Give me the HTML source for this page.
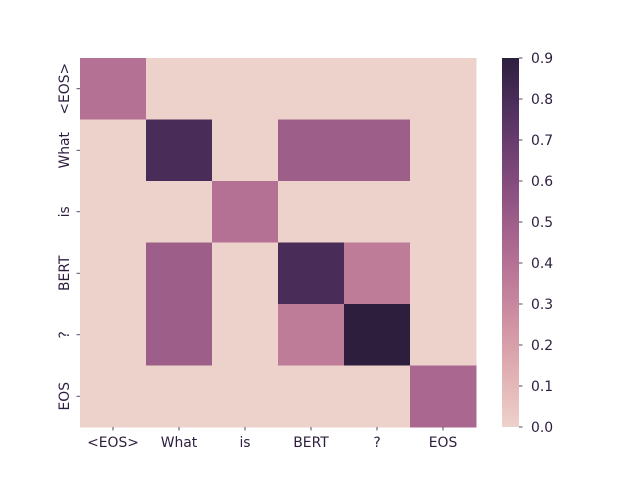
<!DOCTYPE html>
<html><head><meta charset="utf-8"><style>
body{margin:0;background:#fff;}
svg text{font-family:"DejaVu Sans","Liberation Sans",sans-serif;font-size:13.9px;fill:#2d1e3e;}
</style></head><body>
<svg id="chart" width="640" height="480" xmlns="http://www.w3.org/2000/svg"></svg>
<script>
const xLabels = ["<EOS>","What","is","BERT","?","EOS"];
const yLabels = ["<EOS>","What","is","BERT","?","EOS"];
const row0 = [0.4,0,0,0,0,0];
const row1 = [0,0.8,0,0.5,0.5,0];
const row2 = [0,0,0.4,0,0,0];
const row3 = [0,0.5,0,0.8,0.35,0];
const row4 = [0,0.5,0,0.35,0.9,0];
const row5 = [0,0,0,0,0,0.45];
const cbTicks = [0.0,0.1,0.2,0.3,0.4,0.5,0.6,0.7,0.8,0.9];
const vmin = 0, vmax = 0.9;
const rows = [row0,row1,row2,row3,row4,row5];

const NS = "http://www.w3.org/2000/svg";
const svg = document.getElementById("chart");
const L=80,T=58,R=476,B=427;
const cw=(R-L)/xLabels.length, ch=(B-T)/yLabels.length;
function xPos(i){return L+i*cw;}
function yPos(j){return T+j*ch;}
function color(v){
  let t=(v-vmin)/(vmax-vmin); t=Math.max(0,Math.min(1,t));
  const x=0.85-0.7*t, a=0.8*x*(1-x)/2, phi=2*Math.PI*(0.4*x);
  const c=Math.cos(phi), s=Math.sin(phi);
  const r=x+a*(-0.14861*c+1.78277*s), g=x+a*(-0.29227*c-0.90649*s), b=x+a*(1.97294*c);
  const f=q=>Math.round(Math.max(0,Math.min(1,q))*255);
  return `rgb(${f(r)},${f(g)},${f(b)})`;
}
function mk(tag,attrs){const e=document.createElementNS(NS,tag);for(const k in attrs)e.setAttribute(k,attrs[k]);svg.appendChild(e);return e;}
rows.forEach((row,j)=>row.forEach((v,i)=>{
  const r=mk("rect",{x:xPos(i),y:yPos(j),width:cw+0.5,height:ch+0.5,fill:color(v)});
  
  
}));
xLabels.forEach((lab,i)=>{
  const cx=xPos(i)+cw/2;
  const tk=mk("line",{x1:cx,x2:cx,y1:B,y2:B+3.5,stroke:"#2d1e3e","stroke-width":0.8});
  
  
  const t=mk("text",{x:cx,y:B+20,"text-anchor":"middle"});t.textContent=lab;
  
  
});
yLabels.forEach((lab,j)=>{
  const cy=yPos(j)+ch/2;
  const tk=mk("line",{x1:L-3.5,x2:L,y1:cy,y2:cy,stroke:"#2d1e3e","stroke-width":0.8});
  
  
  const t=mk("text",{x:0,y:0,"text-anchor":"middle",transform:`translate(${L-11},${cy}) rotate(-90)`});t.textContent=lab;
  
  
});
const CL=502,CR=519;
const defs=mk("defs",{});
const grad=document.createElementNS(NS,"linearGradient");
grad.setAttribute("id","cb");grad.setAttribute("x1","0");grad.setAttribute("y1","1");grad.setAttribute("x2","0");grad.setAttribute("y2","0");
for(let k=0;k<=20;k++){const s=document.createElementNS(NS,"stop");s.setAttribute("offset",k/20);s.setAttribute("stop-color",color(vmin+(vmax-vmin)*k/20));grad.appendChild(s);}
defs.appendChild(grad);
const cb=mk("rect",{x:CL,y:T,width:CR-CL,height:B-T,fill:"url(#cb)"});


function cbY(v){return B-(v-vmin)/(vmax-vmin)*(B-T);}
cbTicks.forEach(v=>{
  const y=cbY(v);
  const tk=mk("line",{x1:CR,x2:CR+3.5,y1:y,y2:y,stroke:"#2d1e3e","stroke-width":0.8});
  
  
  const t=mk("text",{x:CR+12,y:y+5});t.textContent=v.toFixed(1);
  
  
});
</script>
</body></html>
